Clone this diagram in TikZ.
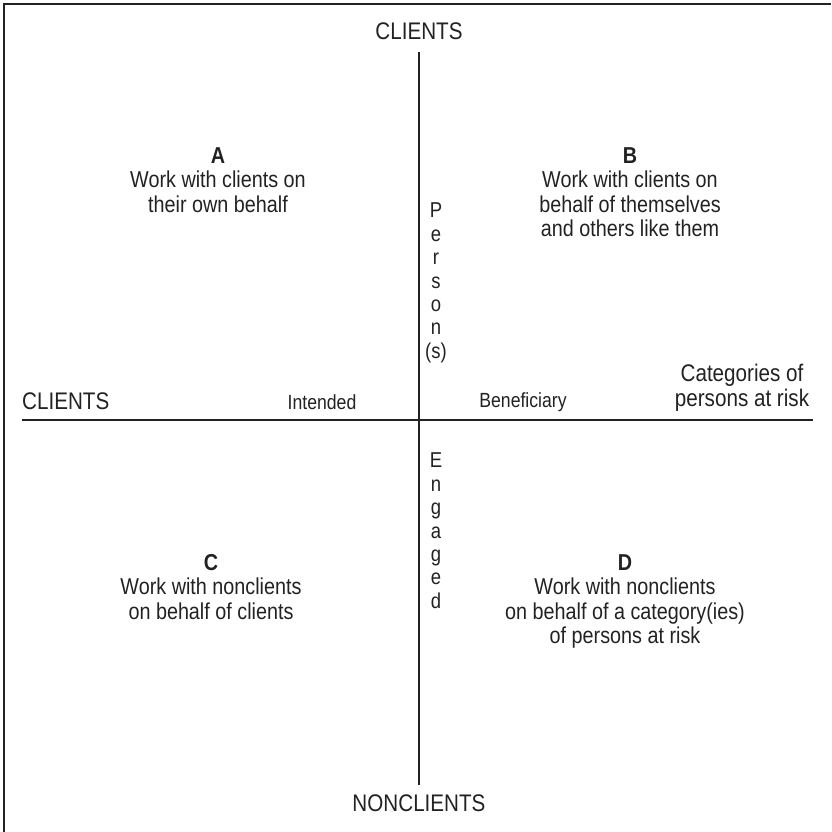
\documentclass[tikz,border=0pt]{standalone}
\usepackage{fontspec}
\setmainfont{Liberation Sans}[FakeStretch=0.86]
\definecolor{ink}{HTML}{222222}
\tikzset{
  lbl/.style={inner sep=0pt, text=ink, font=\fontsize{24}{24.5}\selectfont},
  small/.style={inner sep=0pt, text=ink, font=\fontsize{20.5}{23}\selectfont},
  quad/.style={inner sep=0pt, text=ink, align=center, font=\fontsize{23}{24.5}\selectfont},
  vert/.style={inner sep=0pt, text=ink, align=center, font=\fontsize{21.5}{23.4}\selectfont},
  axis/.style={draw=ink, line width=1.3pt},
  frame/.style={draw=ink, line width=1.8pt}
}
\begin{document}
\begin{tikzpicture}[x=1pt,y=-1pt]
\useasboundingbox (0,0) rectangle (831,832);
% frame (top and left edges)
\coordinate (fl) at (4,832);
\coordinate (fc) at (4,4);
\coordinate (fr) at (831,4);
\draw[frame] (fl) -- (fc) -- (fr);
% axis labels
\node[lbl] (top) at (419,31) {CLIENTS};
\node[lbl] (bot) at (419,803) {NONCLIENTS};
\node[lbl, anchor=west] (left) at (22,401) {CLIENTS};
\node[lbl, align=center] (right) at (742,388) {Categories of\\persons at risk};
\node[small] (int) at (322,402) {Intended};
\node[small] (ben) at (523,402) {Beneficiary};
% axes
\coordinate (vt) at (419,52);
\coordinate (vb) at (419,785);
\coordinate (hl) at (22,420);
\coordinate (hr) at (813,420);
\draw[axis] (vt) -- (vb);
\draw[axis] (hl) -- (hr);
% vertical words
\node[vert, anchor=north] (pers) at (436,203) {P\\e\\r\\s\\o\\n\\(s)};
\node[vert, anchor=north] (eng) at (436,453) {E\\n\\g\\a\\g\\e\\d};
% quadrants
\node[quad, anchor=north] (qa) at (218,147) {\textbf{A}\\Work with clients on\\their own behalf};
\node[quad, anchor=north] (qb) at (630,147) {\textbf{B}\\Work with clients on\\behalf of themselves\\and others like them};
\node[quad, anchor=north] (qc) at (211,554) {\textbf{C}\\Work with nonclients\\on behalf of clients};
\node[quad, anchor=north] (qd) at (625,554) {\textbf{D}\\Work with nonclients\\on behalf of a category(ies)\\of persons at risk};
\end{tikzpicture}
\end{document}
